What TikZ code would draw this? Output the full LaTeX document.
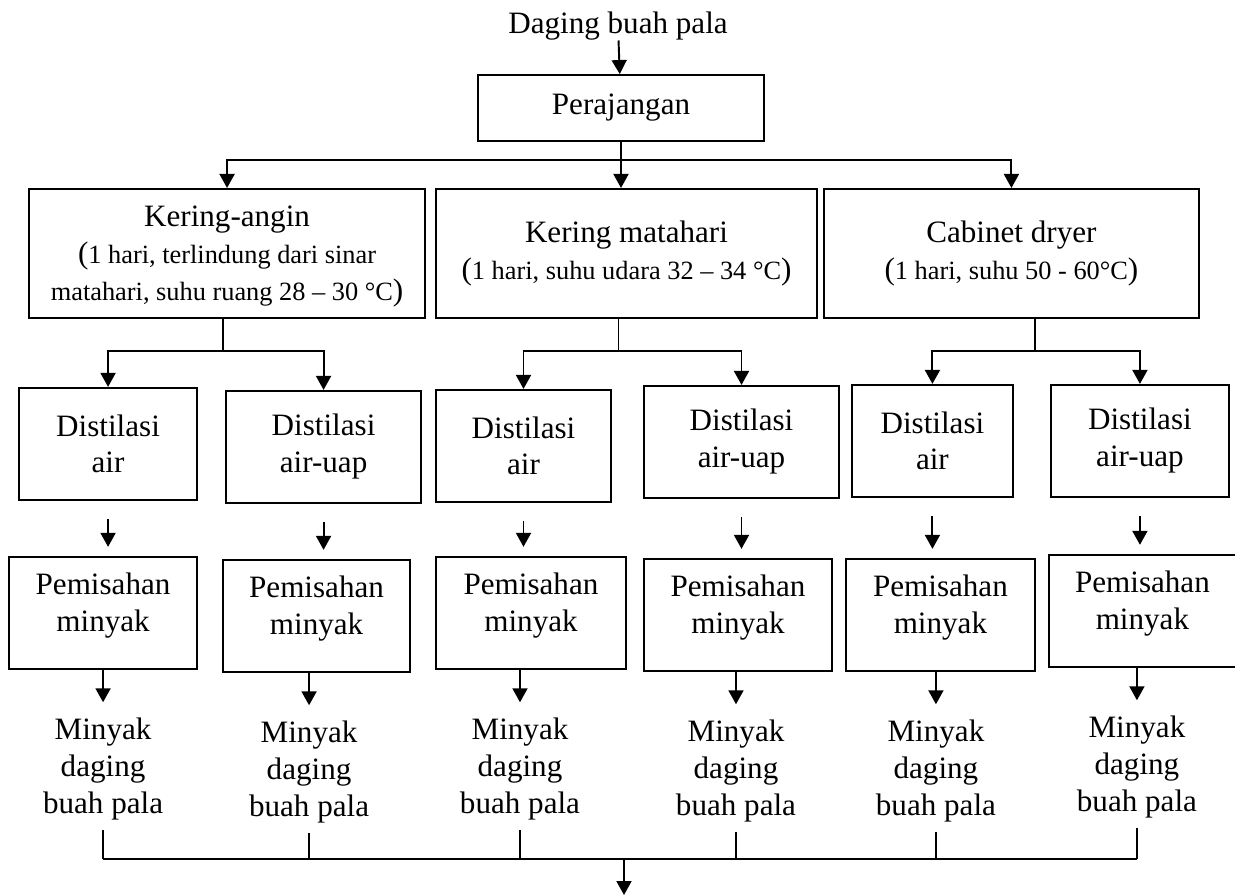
\documentclass[tikz,border=0pt]{standalone}
\usepackage{fontspec}
\setmainfont{Liberation Serif}
\usetikzlibrary{arrows.meta,positioning,calc}
\newcommand{\smalltxt}{\fontsize{15}{21}\selectfont}
\newcommand{\parbig}[1]{{\fontsize{17.7}{21}\selectfont#1}}
\tikzset{
  stepbox/.style = {rectangle, draw=black, line width=1.1pt, align=center,
                    inner sep=2pt, font=\fontsize{17.7}{21}\selectfont},
  drybox/.style  = {stepbox, minimum height=2.58cm},
  distbox/.style = {stepbox, minimum height=2.24cm},
  sepbox/.style  = {stepbox, minimum height=2.24cm, text depth=0.42cm},
  outtext/.style = {align=center, inner sep=0pt, font=\fontsize{17.7}{21}\selectfont},
  arr/.style     = {-{Triangle[length=0.28cm,width=0.3cm]}, line width=1.1pt},
  line/.style    = {line width=1.1pt},
  tick/.style    = {line width=0.7pt},
}
\begin{document}
\begin{tikzpicture}
\useasboundingbox (0,0) rectangle (24.7,-17.9);

%% input and slicing
\node[outtext] (src) at (12.36,-0.52) {Daging buah pala};
\node[stepbox, minimum width=5.72cm, minimum height=1.32cm] (peraj) at (12.42,-2.16) {Perajangan};

%% drying methods
\node[drybox, minimum width=7.62cm, below=0.92cm of peraj, xshift=0.11cm]
      (kmat) {Kering matahari\\\smalltxt\parbig{(}1 hari, suhu udara 32 – 34 °C\parbig{)}};
\node[drybox, minimum width=7.92cm, left=0.18cm of kmat, text depth=0cm]
      (kang) {Kering-angin\\\smalltxt\parbig{(}1 hari, terlindung dari sinar\\\smalltxt matahari, suhu ruang 28 – 30 °C\parbig{)}};
\node[drybox, minimum width=7.5cm, right=0.1cm of kmat]
      (kcab) {Cabinet dryer\\\smalltxt\parbig{(}1 hari, suhu 50 - 60°C\parbig{)}};

%% distillation
\node[distbox, minimum width=3.56cm, below=1.36cm of kang, xshift=-2.38cm] (dA1) {Distilasi\\air};
\node[distbox, minimum width=3.9cm,  below=1.42cm of kang, xshift=1.93cm]  (dA2) {Distilasi\\air-uap};
\node[distbox, minimum width=3.5cm,  below=1.4cm of kmat,  xshift=-2.06cm] (dB1) {Distilasi\\air};
\node[distbox, minimum width=3.9cm,  below=1.32cm of kmat, xshift=2.3cm]   (dB2) {Distilasi\\air-uap};
\node[distbox, minimum width=3.22cm, below=1.3cm of kcab,  xshift=-1.58cm] (dC1) {Distilasi\\air};
\node[distbox, minimum width=3.56cm, below=1.3cm of kcab,  xshift=2.57cm]  (dC2) {Distilasi\\air-uap};

%% oil separation
\node[sepbox, minimum width=3.76cm, below=1.1cm of dA1,  xshift=-0.1cm]  (pA1) {Pemisahan\\minyak};
\node[sepbox, minimum width=3.74cm, below=1.1cm of dA2,  xshift=-0.14cm] (pA2) {Pemisahan\\minyak};
\node[sepbox, minimum width=3.8cm,  below=1.06cm of dB1, xshift=0.15cm]  (pB1) {Pemisahan\\minyak};
\node[sepbox, minimum width=3.76cm, below=1.18cm of dB2, xshift=-0.07cm] (pB2) {Pemisahan\\minyak};
\node[sepbox, minimum width=3.78cm, below=1.2cm of dC1,  xshift=0.16cm]  (pC1) {Pemisahan\\minyak};
\node[sepbox, minimum width=3.74cm, below=1.12cm of dC2, xshift=0.05cm]  (pC2) {Pemisahan\\minyak};

%% products
\node[outtext, below=0.95cm of pA1]                 (oA1) {Minyak\\daging\\buah pala};
\node[outtext, below=0.95cm of pA2, xshift=-0.15cm] (oA2) {Minyak\\daging\\buah pala};
\node[outtext, below=0.95cm of pB1, xshift=-0.22cm] (oB1) {Minyak\\daging\\buah pala};
\node[outtext, below=0.95cm of pB2, xshift=-0.04cm] (oB2) {Minyak\\daging\\buah pala};
\node[outtext, below=0.95cm of pC1, xshift=-0.09cm] (oC1) {Minyak\\daging\\buah pala};
\node[outtext, below=0.95cm of pC2, xshift=-0.11cm] (oC2) {Minyak\\daging\\buah pala};

\coordinate (brT) at ($(peraj.south)+(0,-0.36)$);
\coordinate (brA) at ($(kang.south)+(-0.08,-0.64)$);
\coordinate (brB) at ($(kmat.south)+(-0.16,-0.64)$);
\coordinate (brC) at ($(kcab.south)+(0.47,-0.64)$);
\coordinate (bus) at (12.48,-17.18);
\coordinate (fin) at (12.48,-17.9);

%% arrows: top
\draw[arr]  (src) -- (peraj);
\draw[line] (peraj.south) -- (brT);
\draw[arr]  (brT) -| (kang.north);
\draw[arr]  (brT) -- (brT |- kmat.north);
\draw[arr]  (brT) -| (kcab.north);

%% arrows: drying -> distillation
\draw[line] (kang.south -| brA) -- (brA);
\draw[arr]  (brA) -| (dA1.north);
\draw[arr]  (brA) -| (dA2.north);
\draw[line] (kmat.south -| brB) -- (brB);
\draw[arr]  (brB) -| (dB1.north);
\draw[arr]  (brB) -| (dB2.north);
\draw[line] (kcab.south -| brC) -- (brC);
\draw[arr]  (brC) -| (dC1.north);
\draw[arr]  (brC) -| (dC2.north);

%% arrows: distillation -> separation
\draw[arr, shorten <=0.36cm, shorten >=0.18cm] (dA1.south) -- (dA1.south |- pA1.north);
\draw[arr, shorten <=0.36cm, shorten >=0.18cm] (dA2.south) -- (dA2.south |- pA2.north);
\draw[arr, shorten <=0.36cm, shorten >=0.18cm] (dB1.south) -- (dB1.south |- pB1.north);
\draw[arr, shorten <=0.36cm, shorten >=0.18cm] (dB2.south) -- (dB2.south |- pB2.north);
\draw[arr, shorten <=0.36cm, shorten >=0.18cm] (dC1.south) -- (dC1.south |- pC1.north);
\draw[arr, shorten <=0.36cm, shorten >=0.18cm] (dC2.south) -- (dC2.south |- pC2.north);

%% arrows: separation -> oil
\draw[arr, shorten >=0.3cm] (oA1.north |- pA1.south) -- (oA1.north);
\draw[arr, shorten >=0.3cm] (oA2.north |- pA2.south) -- (oA2.north);
\draw[arr, shorten >=0.3cm] (oB1.north |- pB1.south) -- (oB1.north);
\draw[arr, shorten >=0.3cm] (oB2.north |- pB2.south) -- (oB2.north);
\draw[arr, shorten >=0.3cm] (oC1.north |- pC1.south) -- (oC1.north);
\draw[arr, shorten >=0.3cm] (oC2.north |- pC2.south) -- (oC2.north);

%% collector
\draw[tick, shorten <=0.2cm] (oA1.south) -- (oA1.south |- bus);
\draw[tick, shorten <=0.2cm] (oA2.south) -- (oA2.south |- bus);
\draw[tick, shorten <=0.2cm] (oB1.south) -- (oB1.south |- bus);
\draw[tick, shorten <=0.2cm] (oB2.south) -- (oB2.south |- bus);
\draw[tick, shorten <=0.2cm] (oC1.south) -- (oC1.south |- bus);
\draw[tick, shorten <=0.2cm] (oC2.south) -- (oC2.south |- bus);
\draw[line] (oA1.south |- bus) -- (oC2.south |- bus);
\draw[arr]  (bus) -- (fin);

\end{tikzpicture}
\end{document}
